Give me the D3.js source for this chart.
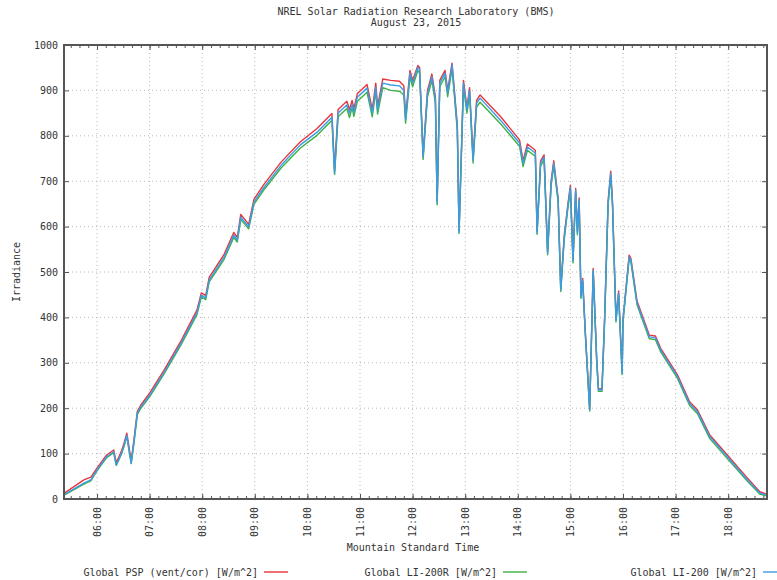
<!DOCTYPE html>
<html>
<head>
<meta charset="utf-8">
<script src="https://cdn.jsdelivr.net/npm/d3@7"></script>
<style>
  body { margin: 0; background: #fff; }
  svg { display: block; }
  text { font-family: "DejaVu Sans Mono", monospace; font-size: 10px; fill: #333; }
</style>
</head>
<body>
<div id="chart"></div>
<script>
// time of day (MST) for each sample
const times = [
  "05:22","05:45","05:53","06:00","06:11","06:19","06:22","06:28","06:31","06:34","06:39","06:42","06:46","06:50",
  "07:00","07:16","07:36","07:54","07:59","08:04","08:08","08:25","08:36","08:40","08:44","08:53","08:59","09:10",
  "09:30","09:52","10:11","10:28","10:31","10:35","10:45","10:48","10:51","10:53","10:57","11:02","11:08","11:14",
  "11:18","11:20","11:26","11:35","11:45","11:50","11:52","11:57","12:00","12:06","12:08","12:12","12:17","12:22",
  "12:26","12:28","12:31","12:37","12:40","12:45","12:51","12:53","12:58","13:02","13:05","13:09","13:13","13:17",
  "13:40","14:02","14:06","14:11","14:20","14:22","14:26","14:30","14:34","14:38","14:41","14:46","14:49","14:53",
  "14:57","15:00","15:03","15:06","15:08","15:10","15:12","15:14","15:17","15:22","15:26","15:30","15:32","15:36",
  "15:39","15:43","15:46","15:48","15:52","15:55","15:59","16:00","16:07","16:09","16:16","16:30","16:37","16:43",
  "17:02","17:16","17:25","17:39","17:59","18:22","18:36","18:43"
];

// Global PSP (vent/cor)
const psp = [
  12,42,48,68,97,108,80,106,124,145,84,128,193,207,
  233,282,349,416,454,448,488,539,587,576,627,605,660,692,
  742,787,816,849,724,858,876,858,878,860,893,902,913,858,
  916,865,925,922,920,910,842,944,922,955,950,758,900,936,
  886,656,922,944,900,960,824,592,922,862,906,750,878,890,
  843,791,745,782,768,590,745,758,546,700,745,663,464,581,
  647,691,528,684,590,663,449,486,369,199,508,309,243,243,
  397,656,722,656,397,458,280,397,537,530,436,361,359,332,
  274,214,196,141,97,46,16,11
];

// Global LI-200R
const li200r = [
  8,33,40,62,91,102,74,99,117,138,78,121,186,200,
  225,274,340,406,445,439,478,528,576,566,616,595,649,680,
  729,773,801,834,715,842,860,840,862,843,876,885,896,842,
  898,848,906,900,898,890,828,930,908,944,938,748,886,922,
  872,648,908,930,886,948,812,585,908,850,892,740,864,874,
  827,777,732,768,755,583,734,746,538,690,734,654,457,572,
  638,681,520,674,582,654,442,478,363,194,500,303,237,237,
  390,647,712,647,390,450,274,390,529,522,428,353,351,324,
  266,206,188,133,89,39,11,7
];

// Global LI-200
const li200 = [
  9,35,42,64,93,104,75,101,119,140,79,123,189,203,
  228,277,344,410,449,443,482,533,581,570,621,599,654,685,
  735,780,808,841,718,850,868,850,870,852,885,894,905,850,
  907,857,916,912,910,900,835,938,916,951,945,753,894,930,
  880,652,916,938,894,956,819,588,916,857,900,746,872,883,
  835,784,740,775,762,586,740,753,542,696,740,659,460,577,
  643,687,524,680,586,659,445,482,366,196,504,306,240,240,
  394,652,718,652,394,454,277,394,533,526,432,357,355,328,
  270,210,192,137,93,42,13,9
];

const hourTicks = ["06:00","07:00","08:00","09:00","10:00","11:00","12:00","13:00","14:00","15:00","16:00","17:00","18:00"];
const yTicks = [0,100,200,300,400,500,600,700,800,900,1000];

const seriesNames = ["Global PSP (vent/cor) [W/m^2]", "Global LI-200R [W/m^2]", "Global LI-200 [W/m^2]"];
const seriesColors = ["#e8343c", "#3cb043", "#3d9be6"];

const W = 777, H = 580;
const m = {left: 64, right: 767, top: 45, bottom: 499};

const toHours = s => { const [h, mm] = s.split(":").map(Number); return h + mm / 60; };

const x = d3.scaleLinear().domain([6 - 33 / 52.6, 6 + 670 / 52.6]).range([m.left, m.right]);
const y = d3.scaleLinear().domain([0, 1000]).range([m.bottom, m.top]);

const svg = d3.select("#chart").append("svg").attr("width", W).attr("height", H);

svg.append("clipPath").attr("id", "plot-clip")
  .append("rect").attr("x", m.left).attr("y", m.top).attr("width", m.right - m.left).attr("height", m.bottom - m.top);

// grid
const grid = svg.append("g").attr("stroke", "#b8b8b8").attr("stroke-dasharray", "1,3").attr("stroke-width", 1);
grid.selectAll(".gx").data(hourTicks).join("line")
  .attr("x1", d => x(toHours(d))).attr("x2", d => x(toHours(d)))
  .attr("y1", m.top).attr("y2", m.bottom);
grid.selectAll(".gy").data(yTicks.slice(1, -1)).join("line")
  .attr("x1", m.left).attr("x2", m.right)
  .attr("y1", d => y(d)).attr("y2", d => y(d));

// series
const line = d3.line().x(d => x(d[0])).y(d => y(d[1]));
const allSeries = [psp, li200r, li200];
const plot = svg.append("g").attr("clip-path", "url(#plot-clip)");
allSeries.forEach((vals, i) => {
  plot.append("path")
    .datum(times.map((t, j) => [toHours(t), vals[j]]))
    .attr("fill", "none")
    .attr("stroke", seriesColors[i])
    .attr("stroke-width", 1.4)
    .attr("stroke-linejoin", "round")
    .attr("d", line);
});

// minor ticks every 10 minutes
const minor = d3.range(0, 24 * 6).map(i => i / 6).filter(h => x(h) > m.left && x(h) < m.right);

// axes (ticks drawn inward)
svg.append("g").attr("transform", `translate(0,${m.bottom})`)
  .call(d3.axisBottom(x).tickValues(hourTicks.map(toHours)).tickSize(-5).tickFormat(""));
svg.append("g").attr("transform", `translate(0,${m.bottom})`)
  .call(d3.axisBottom(x).tickValues(minor).tickSize(-3).tickFormat(""));
svg.append("g").attr("transform", `translate(0,${m.top})`)
  .call(d3.axisTop(x).tickValues(hourTicks.map(toHours)).tickSize(-5).tickFormat(""));
svg.append("g").attr("transform", `translate(0,${m.top})`)
  .call(d3.axisTop(x).tickValues(minor).tickSize(-3).tickFormat(""));
svg.append("g").attr("transform", `translate(${m.left},0)`)
  .call(d3.axisLeft(y).tickValues(yTicks).tickSize(-5).tickFormat(""));
svg.append("g").attr("transform", `translate(${m.right},0)`)
  .call(d3.axisRight(y).tickValues(yTicks).tickSize(-5).tickFormat(""));
svg.selectAll(".domain").remove();
svg.selectAll(".tick line").attr("stroke", "#555");

// frame
svg.append("rect").attr("x", m.left).attr("y", m.top).attr("width", m.right - m.left).attr("height", m.bottom - m.top)
  .attr("fill", "none").attr("stroke", "#555").attr("stroke-width", 2);

// y tick labels
svg.append("g").selectAll("text").data(yTicks).join("text")
  .attr("x", m.left - 6).attr("y", d => y(d)).attr("dy", "0.35em")
  .attr("text-anchor", "end").text(d => d);

// x tick labels (rotated)
svg.append("g").selectAll("text").data(hourTicks).join("text")
  .attr("transform", d => `translate(${x(toHours(d))},507) rotate(-90)`)
  .attr("dy", "0.35em").attr("text-anchor", "end").text(d => d);

// titles
svg.append("text").attr("x", 416).attr("y", 15).attr("text-anchor", "middle")
  .text("NREL Solar Radiation Research Laboratory (BMS)");
svg.append("text").attr("x", 416).attr("y", 26).attr("text-anchor", "middle")
  .text("August 23, 2015");
svg.append("text").attr("x", 413).attr("y", 551).attr("text-anchor", "middle")
  .text("Mountain Standard Time");
svg.append("text").attr("transform", "translate(20,272) rotate(-90)").attr("text-anchor", "middle")
  .text("Irradiance");

// legend
const legendX = [258, 497, 757];
const legend = svg.append("g");
seriesNames.forEach((name, i) => {
  legend.append("text").attr("x", legendX[i]).attr("y", 576).attr("text-anchor", "end").text(name);
  legend.append("line")
    .attr("x1", legendX[i] + 6).attr("x2", legendX[i] + 30)
    .attr("y1", 572).attr("y2", 572)
    .attr("stroke", seriesColors[i]).attr("stroke-width", 1.4);
});
</script>
</body>
</html>
